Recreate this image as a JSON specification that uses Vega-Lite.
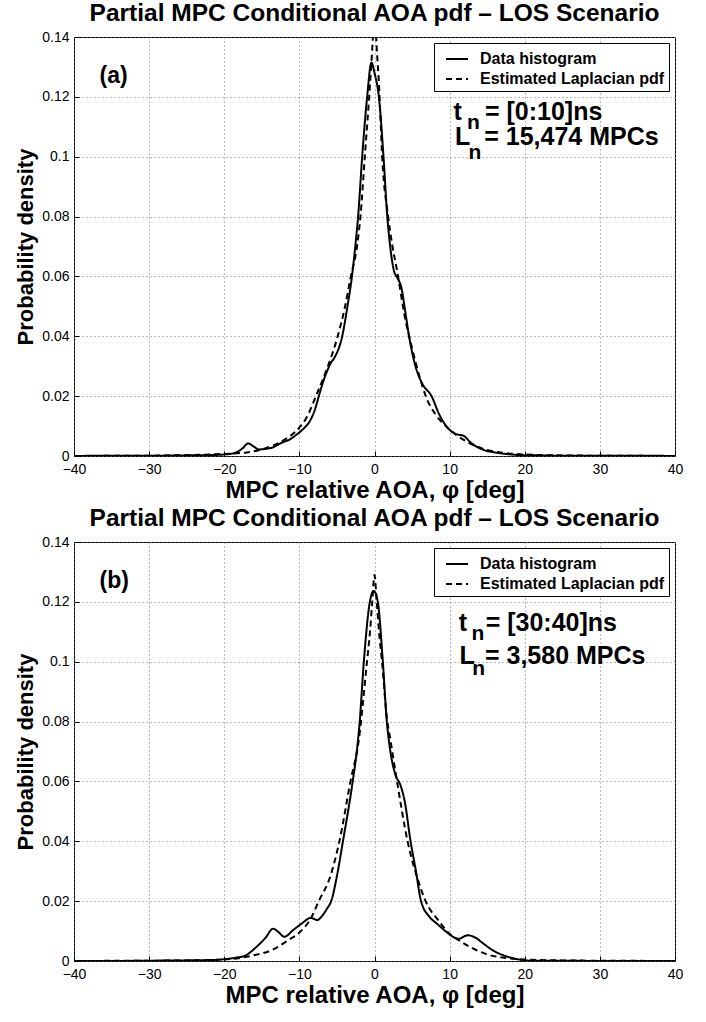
{
  "$schema": "https://vega.github.io/schema/vega-lite/v6.json",
  "background": "white",
  "padding": {"left": 14, "top": 0, "right": 24, "bottom": 2},
  "spacing": 2,
  "config": {
    "font": "Liberation Sans",
    "view": {"stroke": "black", "strokeWidth": 1},
    "axis": {
      "grid": true, "gridDash": [1, 3], "gridColor": "#777", "gridWidth": 1,
      "domain": false, "tickColor": "black", "tickSize": -5, "labelPadding": 10, "labelFlush": false,
      "labelFontSize": 14, "labelColor": "black", "labelFont": "Liberation Sans",
      "titleFontWeight": "bold", "titleColor": "black", "titleFont": "Liberation Sans", "titlePadding": 2
    },
    "axisX": {"titleFontSize": 24, "labelPadding": 11},
    "axisY": {"titleFontSize": 22, "titlePadding": 4},
    "title": {"fontSize": 24.5, "fontWeight": "bold", "anchor": "middle", "offset": 4, "color": "black", "font": "Liberation Sans"},
    "legend": {
      "orient": "top-right", "offset": 6, "fillColor": "white", "strokeColor": "black",
      "padding": 4, "labelFontSize": 16, "labelFontWeight": "bold", "labelColor": "black", "labelLimit": 400,
      "symbolType": "stroke", "symbolStrokeWidth": 2, "symbolSize": 484, "symbolStrokeColor": "black",
      "symbolOffset": 7, "rowPadding": -3, "labelOffset": 11, "cornerRadius": 0, "labelFont": "Liberation Sans"
    }
  },
  "resolve": {"legend": {"strokeDash": "independent"}},
  "datasets": {
    "a": [
      {"phi": -40, "pdf": 0, "series": "Data histogram"},
      {"phi": -35, "pdf": 0.0001, "series": "Data histogram"},
      {"phi": -30, "pdf": 0.0001, "series": "Data histogram"},
      {"phi": -25, "pdf": 0.0002, "series": "Data histogram"},
      {"phi": -22, "pdf": 0.0003, "series": "Data histogram"},
      {"phi": -20, "pdf": 0.0005, "series": "Data histogram"},
      {"phi": -18.5, "pdf": 0.0011, "series": "Data histogram"},
      {"phi": -17.6, "pdf": 0.0025, "series": "Data histogram"},
      {"phi": -16.8, "pdf": 0.0042, "series": "Data histogram"},
      {"phi": -16.1, "pdf": 0.0032, "series": "Data histogram"},
      {"phi": -15.4, "pdf": 0.0022, "series": "Data histogram"},
      {"phi": -14.5, "pdf": 0.0024, "series": "Data histogram"},
      {"phi": -13.6, "pdf": 0.0028, "series": "Data histogram"},
      {"phi": -12.3, "pdf": 0.0045, "series": "Data histogram"},
      {"phi": -11.3, "pdf": 0.0055, "series": "Data histogram"},
      {"phi": -10.3, "pdf": 0.0073, "series": "Data histogram"},
      {"phi": -9.5, "pdf": 0.009, "series": "Data histogram"},
      {"phi": -8.6, "pdf": 0.0117, "series": "Data histogram"},
      {"phi": -8, "pdf": 0.015, "series": "Data histogram"},
      {"phi": -7.4, "pdf": 0.0201, "series": "Data histogram"},
      {"phi": -6.8, "pdf": 0.0251, "series": "Data histogram"},
      {"phi": -6.2, "pdf": 0.029, "series": "Data histogram"},
      {"phi": -5.9, "pdf": 0.0307, "series": "Data histogram"},
      {"phi": -5.3, "pdf": 0.033, "series": "Data histogram"},
      {"phi": -4.3, "pdf": 0.04, "series": "Data histogram"},
      {"phi": -3.6, "pdf": 0.05, "series": "Data histogram"},
      {"phi": -3.0, "pdf": 0.06, "series": "Data histogram"},
      {"phi": -2.5, "pdf": 0.0715, "series": "Data histogram"},
      {"phi": -2.18, "pdf": 0.08, "series": "Data histogram"},
      {"phi": -1.64, "pdf": 0.1, "series": "Data histogram"},
      {"phi": -0.98, "pdf": 0.12, "series": "Data histogram"},
      {"phi": -0.4, "pdf": 0.1315, "series": "Data histogram"},
      {"phi": 0, "pdf": 0.128, "series": "Data histogram"},
      {"phi": 0.58, "pdf": 0.12, "series": "Data histogram"},
      {"phi": 1.2, "pdf": 0.1, "series": "Data histogram"},
      {"phi": 1.7, "pdf": 0.08, "series": "Data histogram"},
      {"phi": 2.0, "pdf": 0.072, "series": "Data histogram"},
      {"phi": 2.6, "pdf": 0.0618, "series": "Data histogram"},
      {"phi": 3.05, "pdf": 0.0595, "series": "Data histogram"},
      {"phi": 3.6, "pdf": 0.056, "series": "Data histogram"},
      {"phi": 4.05, "pdf": 0.049, "series": "Data histogram"},
      {"phi": 4.6, "pdf": 0.04, "series": "Data histogram"},
      {"phi": 5.5, "pdf": 0.0296, "series": "Data histogram"},
      {"phi": 6.4, "pdf": 0.024, "series": "Data histogram"},
      {"phi": 7.6, "pdf": 0.02, "series": "Data histogram"},
      {"phi": 8.6, "pdf": 0.014, "series": "Data histogram"},
      {"phi": 9.7, "pdf": 0.0095, "series": "Data histogram"},
      {"phi": 10.8, "pdf": 0.0074, "series": "Data histogram"},
      {"phi": 11.9, "pdf": 0.0067, "series": "Data histogram"},
      {"phi": 12.8, "pdf": 0.0045, "series": "Data histogram"},
      {"phi": 14.7, "pdf": 0.0019, "series": "Data histogram"},
      {"phi": 16, "pdf": 0.0012, "series": "Data histogram"},
      {"phi": 17.4, "pdf": 0.0007, "series": "Data histogram"},
      {"phi": 19.6, "pdf": 0.0003, "series": "Data histogram"},
      {"phi": 22, "pdf": 0.0002, "series": "Data histogram"},
      {"phi": 25, "pdf": 0.0001, "series": "Data histogram"},
      {"phi": 30, "pdf": 0.0001, "series": "Data histogram"},
      {"phi": 35, "pdf": 0.0001, "series": "Data histogram"},
      {"phi": 40, "pdf": 0, "series": "Data histogram"},
      {"phi": -40, "pdf": 0.00002, "series": "Estimated Laplacian pdf"},
      {"phi": -35, "pdf": 0.00005, "series": "Estimated Laplacian pdf"},
      {"phi": -30, "pdf": 0.0001, "series": "Estimated Laplacian pdf"},
      {"phi": -25, "pdf": 0.0003, "series": "Estimated Laplacian pdf"},
      {"phi": -20, "pdf": 0.0007, "series": "Estimated Laplacian pdf"},
      {"phi": -17, "pdf": 0.0012, "series": "Estimated Laplacian pdf"},
      {"phi": -15, "pdf": 0.0022, "series": "Estimated Laplacian pdf"},
      {"phi": -12.3, "pdf": 0.005, "series": "Estimated Laplacian pdf"},
      {"phi": -10, "pdf": 0.0095, "series": "Estimated Laplacian pdf"},
      {"phi": -9, "pdf": 0.013, "series": "Estimated Laplacian pdf"},
      {"phi": -7.8, "pdf": 0.02, "series": "Estimated Laplacian pdf"},
      {"phi": -6.5, "pdf": 0.028, "series": "Estimated Laplacian pdf"},
      {"phi": -4.9, "pdf": 0.04, "series": "Estimated Laplacian pdf"},
      {"phi": -4, "pdf": 0.049, "series": "Estimated Laplacian pdf"},
      {"phi": -3.15, "pdf": 0.06, "series": "Estimated Laplacian pdf"},
      {"phi": -2.3, "pdf": 0.0705, "series": "Estimated Laplacian pdf"},
      {"phi": -1.87, "pdf": 0.08, "series": "Estimated Laplacian pdf"},
      {"phi": -1.29, "pdf": 0.1, "series": "Estimated Laplacian pdf"},
      {"phi": -0.6, "pdf": 0.124, "series": "Estimated Laplacian pdf"},
      {"phi": -0.3, "pdf": 0.136, "series": "Estimated Laplacian pdf"},
      {"phi": 0, "pdf": 0.148, "series": "Estimated Laplacian pdf"},
      {"phi": 0.3, "pdf": 0.136, "series": "Estimated Laplacian pdf"},
      {"phi": 0.6, "pdf": 0.124, "series": "Estimated Laplacian pdf"},
      {"phi": 1.02, "pdf": 0.1, "series": "Estimated Laplacian pdf"},
      {"phi": 1.82, "pdf": 0.08, "series": "Estimated Laplacian pdf"},
      {"phi": 2.36, "pdf": 0.0705, "series": "Estimated Laplacian pdf"},
      {"phi": 3.0, "pdf": 0.062, "series": "Estimated Laplacian pdf"},
      {"phi": 4.0, "pdf": 0.047, "series": "Estimated Laplacian pdf"},
      {"phi": 5.0, "pdf": 0.036, "series": "Estimated Laplacian pdf"},
      {"phi": 6.0, "pdf": 0.0265, "series": "Estimated Laplacian pdf"},
      {"phi": 6.9, "pdf": 0.0195, "series": "Estimated Laplacian pdf"},
      {"phi": 8.1, "pdf": 0.014, "series": "Estimated Laplacian pdf"},
      {"phi": 9.5, "pdf": 0.01, "series": "Estimated Laplacian pdf"},
      {"phi": 11, "pdf": 0.0068, "series": "Estimated Laplacian pdf"},
      {"phi": 12.5, "pdf": 0.0045, "series": "Estimated Laplacian pdf"},
      {"phi": 15, "pdf": 0.002, "series": "Estimated Laplacian pdf"},
      {"phi": 17, "pdf": 0.0011, "series": "Estimated Laplacian pdf"},
      {"phi": 20, "pdf": 0.0005, "series": "Estimated Laplacian pdf"},
      {"phi": 25, "pdf": 0.0002, "series": "Estimated Laplacian pdf"},
      {"phi": 30, "pdf": 0.0001, "series": "Estimated Laplacian pdf"},
      {"phi": 35, "pdf": 0.00005, "series": "Estimated Laplacian pdf"},
      {"phi": 40, "pdf": 0.00002, "series": "Estimated Laplacian pdf"}
    ],
    "b": [
      {"phi": -40, "pdf": 0, "series": "Data histogram"},
      {"phi": -35, "pdf": 0, "series": "Data histogram"},
      {"phi": -30, "pdf": 0.0001, "series": "Data histogram"},
      {"phi": -25, "pdf": 0.0002, "series": "Data histogram"},
      {"phi": -22, "pdf": 0.0003, "series": "Data histogram"},
      {"phi": -20, "pdf": 0.0006, "series": "Data histogram"},
      {"phi": -18.5, "pdf": 0.0011, "series": "Data histogram"},
      {"phi": -17.2, "pdf": 0.0018, "series": "Data histogram"},
      {"phi": -15.9, "pdf": 0.0043, "series": "Data histogram"},
      {"phi": -14.5, "pdf": 0.0078, "series": "Data histogram"},
      {"phi": -13.5, "pdf": 0.0108, "series": "Data histogram"},
      {"phi": -12.8, "pdf": 0.0097, "series": "Data histogram"},
      {"phi": -12.0, "pdf": 0.0081, "series": "Data histogram"},
      {"phi": -10.8, "pdf": 0.0104, "series": "Data histogram"},
      {"phi": -9.6, "pdf": 0.0127, "series": "Data histogram"},
      {"phi": -8.5, "pdf": 0.0144, "series": "Data histogram"},
      {"phi": -7.6, "pdf": 0.0137, "series": "Data histogram"},
      {"phi": -7.0, "pdf": 0.015, "series": "Data histogram"},
      {"phi": -6.4, "pdf": 0.0172, "series": "Data histogram"},
      {"phi": -5.7, "pdf": 0.0205, "series": "Data histogram"},
      {"phi": -5.0, "pdf": 0.0284, "series": "Data histogram"},
      {"phi": -4.2, "pdf": 0.04, "series": "Data histogram"},
      {"phi": -2.9, "pdf": 0.06, "series": "Data histogram"},
      {"phi": -2.27, "pdf": 0.072, "series": "Data histogram"},
      {"phi": -2.0, "pdf": 0.079, "series": "Data histogram"},
      {"phi": -1.42, "pdf": 0.1, "series": "Data histogram"},
      {"phi": -0.62, "pdf": 0.12, "series": "Data histogram"},
      {"phi": -0.1, "pdf": 0.1236, "series": "Data histogram"},
      {"phi": 0.44, "pdf": 0.12, "series": "Data histogram"},
      {"phi": 1.11, "pdf": 0.1, "series": "Data histogram"},
      {"phi": 1.64, "pdf": 0.08, "series": "Data histogram"},
      {"phi": 2.0, "pdf": 0.072, "series": "Data histogram"},
      {"phi": 2.8, "pdf": 0.0621, "series": "Data histogram"},
      {"phi": 3.45, "pdf": 0.0588, "series": "Data histogram"},
      {"phi": 4.04, "pdf": 0.0531, "series": "Data histogram"},
      {"phi": 4.8, "pdf": 0.04, "series": "Data histogram"},
      {"phi": 5.47, "pdf": 0.0307, "series": "Data histogram"},
      {"phi": 6.2, "pdf": 0.02, "series": "Data histogram"},
      {"phi": 7.3, "pdf": 0.0148, "series": "Data histogram"},
      {"phi": 8.3, "pdf": 0.0125, "series": "Data histogram"},
      {"phi": 9.2, "pdf": 0.0105, "series": "Data histogram"},
      {"phi": 10.2, "pdf": 0.0085, "series": "Data histogram"},
      {"phi": 11.2, "pdf": 0.0074, "series": "Data histogram"},
      {"phi": 12.4, "pdf": 0.0086, "series": "Data histogram"},
      {"phi": 13.5, "pdf": 0.0077, "series": "Data histogram"},
      {"phi": 14.5, "pdf": 0.0058, "series": "Data histogram"},
      {"phi": 16, "pdf": 0.0032, "series": "Data histogram"},
      {"phi": 17.3, "pdf": 0.0018, "series": "Data histogram"},
      {"phi": 18.5, "pdf": 0.0009, "series": "Data histogram"},
      {"phi": 19.5, "pdf": 0.0004, "series": "Data histogram"},
      {"phi": 21, "pdf": 0.0001, "series": "Data histogram"},
      {"phi": 25, "pdf": 0.0001, "series": "Data histogram"},
      {"phi": 30, "pdf": 0, "series": "Data histogram"},
      {"phi": 40, "pdf": 0, "series": "Data histogram"},
      {"phi": -40, "pdf": 0.00002, "series": "Estimated Laplacian pdf"},
      {"phi": -35, "pdf": 0.00005, "series": "Estimated Laplacian pdf"},
      {"phi": -30, "pdf": 0.0001, "series": "Estimated Laplacian pdf"},
      {"phi": -25, "pdf": 0.0002, "series": "Estimated Laplacian pdf"},
      {"phi": -20, "pdf": 0.0005, "series": "Estimated Laplacian pdf"},
      {"phi": -17.5, "pdf": 0.0012, "series": "Estimated Laplacian pdf"},
      {"phi": -15.9, "pdf": 0.002, "series": "Estimated Laplacian pdf"},
      {"phi": -13.6, "pdf": 0.0037, "series": "Estimated Laplacian pdf"},
      {"phi": -11.4, "pdf": 0.0071, "series": "Estimated Laplacian pdf"},
      {"phi": -10, "pdf": 0.0095, "series": "Estimated Laplacian pdf"},
      {"phi": -8.44, "pdf": 0.0144, "series": "Estimated Laplacian pdf"},
      {"phi": -7.42, "pdf": 0.02, "series": "Estimated Laplacian pdf"},
      {"phi": -5.87, "pdf": 0.0284, "series": "Estimated Laplacian pdf"},
      {"phi": -4.67, "pdf": 0.04, "series": "Estimated Laplacian pdf"},
      {"phi": -3.2, "pdf": 0.06, "series": "Estimated Laplacian pdf"},
      {"phi": -2.0, "pdf": 0.0756, "series": "Estimated Laplacian pdf"},
      {"phi": -1.8, "pdf": 0.08, "series": "Estimated Laplacian pdf"},
      {"phi": -1.0, "pdf": 0.1, "series": "Estimated Laplacian pdf"},
      {"phi": -0.6, "pdf": 0.11, "series": "Estimated Laplacian pdf"},
      {"phi": -0.3, "pdf": 0.12, "series": "Estimated Laplacian pdf"},
      {"phi": 0, "pdf": 0.129, "series": "Estimated Laplacian pdf"},
      {"phi": 0.3, "pdf": 0.12, "series": "Estimated Laplacian pdf"},
      {"phi": 0.6, "pdf": 0.11, "series": "Estimated Laplacian pdf"},
      {"phi": 1.0, "pdf": 0.1, "series": "Estimated Laplacian pdf"},
      {"phi": 1.7, "pdf": 0.08, "series": "Estimated Laplacian pdf"},
      {"phi": 2.0, "pdf": 0.0756, "series": "Estimated Laplacian pdf"},
      {"phi": 3.0, "pdf": 0.06, "series": "Estimated Laplacian pdf"},
      {"phi": 4.4, "pdf": 0.04, "series": "Estimated Laplacian pdf"},
      {"phi": 5.9, "pdf": 0.0262, "series": "Estimated Laplacian pdf"},
      {"phi": 6.8, "pdf": 0.02, "series": "Estimated Laplacian pdf"},
      {"phi": 8.6, "pdf": 0.0133, "series": "Estimated Laplacian pdf"},
      {"phi": 9.9, "pdf": 0.0093, "series": "Estimated Laplacian pdf"},
      {"phi": 11, "pdf": 0.0073, "series": "Estimated Laplacian pdf"},
      {"phi": 12.5, "pdf": 0.005, "series": "Estimated Laplacian pdf"},
      {"phi": 15, "pdf": 0.0022, "series": "Estimated Laplacian pdf"},
      {"phi": 17.5, "pdf": 0.001, "series": "Estimated Laplacian pdf"},
      {"phi": 20, "pdf": 0.0005, "series": "Estimated Laplacian pdf"},
      {"phi": 25, "pdf": 0.0002, "series": "Estimated Laplacian pdf"},
      {"phi": 30, "pdf": 0.0001, "series": "Estimated Laplacian pdf"},
      {"phi": 35, "pdf": 0.00005, "series": "Estimated Laplacian pdf"},
      {"phi": 40, "pdf": 0.00002, "series": "Estimated Laplacian pdf"}
    ],
    "a_tag": [{"phi": -36.6, "pdf": 0.127, "label": "(a)"}],
    "b_tag": [{"phi": -36.6, "pdf": 0.127, "label": "(b)"}],
    "a_text": [
      {"phi": 10.5, "pdf": 0.1122, "label": "t"},
      {"phi": 14.7, "pdf": 0.1122, "label": "= [0:10]ns"},
      {"phi": 10.7, "pdf": 0.1039, "label": "L"},
      {"phi": 14.6, "pdf": 0.1039, "label": "= 15,474 MPCs"}
    ],
    "a_sub": [
      {"phi": 12.3, "pdf": 0.1091, "label": "n"},
      {"phi": 12.5, "pdf": 0.0994, "label": "n"}
    ],
    "b_text": [
      {"phi": 11.2, "pdf": 0.1103, "label": "t"},
      {"phi": 14.8, "pdf": 0.1103, "label": "= [30:40]ns"},
      {"phi": 11.3, "pdf": 0.0994, "label": "L"},
      {"phi": 14.7, "pdf": 0.0994, "label": "= 3,580 MPCs"}
    ],
    "b_sub": [
      {"phi": 12.9, "pdf": 0.1073, "label": "n"},
      {"phi": 13.0, "pdf": 0.0955, "label": "n"}
    ]
  },
  "vconcat": [
    {
      "title": "Partial MPC Conditional AOA pdf – LOS Scenario",
      "width": 601, "height": 419,
      "layer": [
        {
          "data": {"name": "a"},
          "mark": {"type": "line", "interpolate": "monotone", "strokeWidth": 2, "color": "black", "clip": true},
          "encoding": {
            "x": {"field": "phi", "type": "quantitative", "scale": {"domain": [-40, 40], "nice": false},
                  "axis": {"values": [-40, -30, -20, -10, 0, 10, 20, 30, 40], "title": "MPC relative AOA, φ [deg]"}},
            "y": {"field": "pdf", "type": "quantitative", "scale": {"domain": [0, 0.14], "nice": false},
                  "axis": {"values": [0, 0.02, 0.04, 0.06, 0.08, 0.1, 0.12, 0.14], "format": "~g", "title": "Probability density"}},
            "strokeDash": {"field": "series", "type": "nominal",
                           "scale": {"domain": ["Data histogram", "Estimated Laplacian pdf"], "range": [[1, 0], [6, 4]]},
                           "legend": {"title": null}}
          }
        },
        {
          "data": {"name": "a_tag"},
          "mark": {"type": "text", "align": "left", "baseline": "middle", "fontWeight": "bold", "fontSize": 23, "color": "black"},
          "encoding": {"x": {"field": "phi", "type": "quantitative"}, "y": {"field": "pdf", "type": "quantitative"}, "text": {"field": "label"}}
        },
        {
          "data": {"name": "a_text"},
          "mark": {"type": "text", "align": "left", "baseline": "alphabetic", "fontWeight": "bold", "fontSize": 25, "color": "black"},
          "encoding": {"x": {"field": "phi", "type": "quantitative"}, "y": {"field": "pdf", "type": "quantitative"}, "text": {"field": "label"}}
        },
        {
          "data": {"name": "a_sub"},
          "mark": {"type": "text", "align": "left", "baseline": "alphabetic", "fontWeight": "bold", "fontSize": 21, "color": "black"},
          "encoding": {"x": {"field": "phi", "type": "quantitative"}, "y": {"field": "pdf", "type": "quantitative"}, "text": {"field": "label"}}
        }
      ]
    },
    {
      "title": "Partial MPC Conditional AOA pdf – LOS Scenario",
      "width": 601, "height": 419,
      "layer": [
        {
          "data": {"name": "b"},
          "mark": {"type": "line", "interpolate": "monotone", "strokeWidth": 2, "color": "black", "clip": true},
          "encoding": {
            "x": {"field": "phi", "type": "quantitative", "scale": {"domain": [-40, 40], "nice": false},
                  "axis": {"values": [-40, -30, -20, -10, 0, 10, 20, 30, 40], "title": "MPC relative AOA, φ [deg]"}},
            "y": {"field": "pdf", "type": "quantitative", "scale": {"domain": [0, 0.14], "nice": false},
                  "axis": {"values": [0, 0.02, 0.04, 0.06, 0.08, 0.1, 0.12, 0.14], "format": "~g", "title": "Probability density"}},
            "strokeDash": {"field": "series", "type": "nominal",
                           "scale": {"domain": ["Data histogram", "Estimated Laplacian pdf"], "range": [[1, 0], [6, 4]]},
                           "legend": {"title": null}}
          }
        },
        {
          "data": {"name": "b_tag"},
          "mark": {"type": "text", "align": "left", "baseline": "middle", "fontWeight": "bold", "fontSize": 23, "color": "black"},
          "encoding": {"x": {"field": "phi", "type": "quantitative"}, "y": {"field": "pdf", "type": "quantitative"}, "text": {"field": "label"}}
        },
        {
          "data": {"name": "b_text"},
          "mark": {"type": "text", "align": "left", "baseline": "alphabetic", "fontWeight": "bold", "fontSize": 25, "color": "black"},
          "encoding": {"x": {"field": "phi", "type": "quantitative"}, "y": {"field": "pdf", "type": "quantitative"}, "text": {"field": "label"}}
        },
        {
          "data": {"name": "b_sub"},
          "mark": {"type": "text", "align": "left", "baseline": "alphabetic", "fontWeight": "bold", "fontSize": 21, "color": "black"},
          "encoding": {"x": {"field": "phi", "type": "quantitative"}, "y": {"field": "pdf", "type": "quantitative"}, "text": {"field": "label"}}
        }
      ]
    }
  ]
}
